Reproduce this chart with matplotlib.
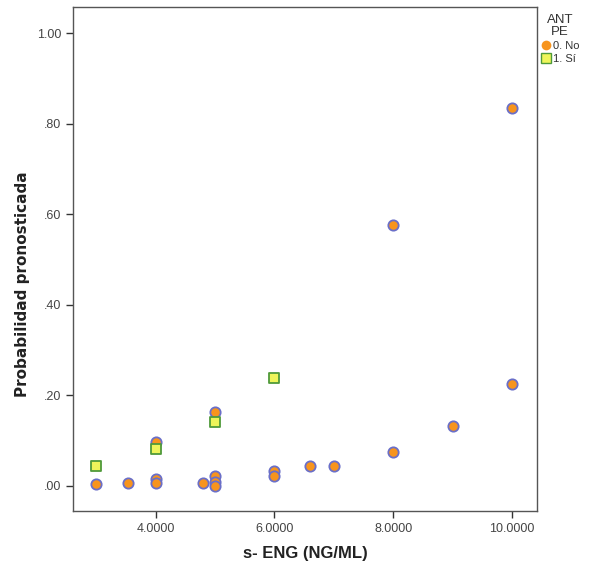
import matplotlib
matplotlib.use("Agg")
import matplotlib.pyplot as plt
from matplotlib.lines import Line2D

plt.rcParams['font.family'] = ['Liberation Sans', 'DejaVu Sans']

# group 0. No (circles)
no_x = [3.0, 3.53, 4.0, 4.0, 4.0, 4.8, 5.0, 5.0, 5.0, 5.0, 6.0, 6.0, 6.6, 7.0, 8.0, 8.0, 9.0, 10.0, 10.0]
no_y = [0.004, 0.007, 0.015, 0.006, 0.096, 0.006, 0.164, 0.022, 0.009, 0.001, 0.034, 0.023, 0.043, 0.043, 0.076, 0.577, 0.133, 0.225, 0.835]

# group 1. Sí (squares)
si_x = [3.0, 4.0, 5.0, 6.0]
si_y = [0.045, 0.081, 0.142, 0.239]

x_ticks = [4, 6, 8, 10]
x_labels = ['4.0000', '6.0000', '8.0000', '10.0000']
y_ticks = [0.0, 0.2, 0.4, 0.6, 0.8, 1.0]
y_labels = ['.00', '.20', '.40', '.60', '.80', '1.00']

orange = '#f7941d'
blue_edge = '#6a6fc8'
yellow = '#eef55a'
green_edge = '#4f9a3a'

fig = plt.figure(figsize=(5.89, 5.67), dpi=100)
ax = fig.add_axes([0.124, 0.099, 0.788, 0.889])

ax.scatter(no_x, no_y, s=55, marker='o', facecolor=orange, edgecolor=blue_edge, linewidth=1.3, zorder=3)
ax.scatter(si_x, si_y, s=55, marker='s', facecolor=yellow, edgecolor=green_edge, linewidth=1.3, zorder=3)

ax.set_xlim(2.61, 10.42)
ax.set_ylim(-0.055, 1.058)
ax.set_xticks(x_ticks)
ax.set_xticklabels(x_labels)
ax.set_yticks(y_ticks)
ax.set_yticklabels(y_labels)
ax.tick_params(labelsize=9, labelcolor='#444444', color='#333333', length=5, width=1, direction='out')
for s in ax.spines.values():
    s.set_color('#555555')
    s.set_linewidth(1)

ax.set_xlabel('s- ENG (NG/ML)', fontsize=12, fontweight='bold', labelpad=8, color='#222222')
ax.set_ylabel('Probabilidad pronosticada', fontsize=11, fontweight='bold', color='#222222',
              family='DejaVu Sans')
ax.yaxis.set_label_coords(-0.092, 0.45)

handles = [
    Line2D([], [], marker='o', linestyle='', markersize=7, markerfacecolor=orange, markeredgecolor=orange, markeredgewidth=0),
    Line2D([], [], marker='s', linestyle='', markersize=7, markerfacecolor=yellow, markeredgecolor=green_edge, markeredgewidth=1),
]
leg = fig.legend(handles, ['0. No', '1. Sí'], title='ANT\nPE', loc='upper left',
                 bbox_to_anchor=(0.915, 0.978), frameon=False, fontsize=8,
                 title_fontsize=9.5, handletextpad=0.2, handlelength=1.0,
                 borderpad=0.1, labelspacing=0.3, borderaxespad=0)
leg.get_title().set_multialignment('center')
leg.get_title().set_color('#333333')
leg.get_title().set_linespacing(1.0)
for t in leg.get_texts():
    t.set_color('#333333')

fig.savefig('out.png', dpi=100)
